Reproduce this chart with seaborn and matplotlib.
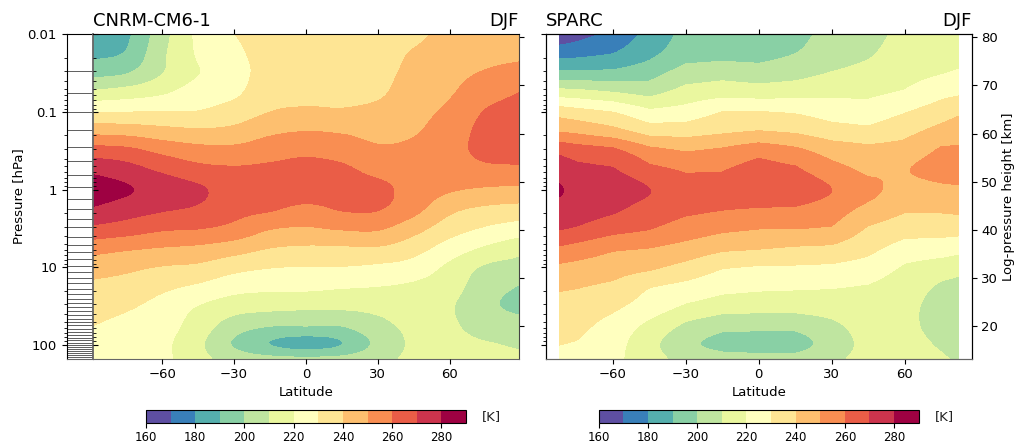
import numpy as np
import matplotlib
matplotlib.use("Agg")
import matplotlib.pyplot as plt
from matplotlib.ticker import NullFormatter
import seaborn as sns

# pressure rows [hPa], top to bottom
pressure = [0.01, 0.0178, 0.0316, 0.0562, 0.1, 0.178, 0.316, 0.562, 1, 1.78, 3.16, 5.62, 10, 17.8, 31.6, 56.2, 100, 150]

# zonal mean temperature [K] per latitude column
cnrm_lat = [-88.8, -75, -60, -45, -30, -15, 0, 15, 30, 45, 60, 75, 89]
cnrm_m89 = [182, 187.5, 196.7, 212, 230, 247, 264.5, 277.7, 285, 278.7, 267.6, 254, 244, 238, 234, 230, 226, 224]
cnrm_m75 = [188, 191, 199.5, 214.5, 230, 246, 262.8, 274, 281, 274.5, 265, 251.5, 242, 236.3, 231.3, 227, 224, 223]
cnrm_m60 = [206, 208, 209.7, 218.4, 230.4, 243.5, 257.3, 268.3, 276, 271, 261.3, 249.5, 239.3, 232, 226.5, 224, 222, 222]
cnrm_m45 = [222, 221, 219.5, 224.7, 230.5, 241.8, 253.7, 263.2, 271.5, 268.5, 260.2, 248, 237.7, 228.2, 219.6, 215.3, 212, 213]
cnrm_m30 = [229.8, 228, 226, 228, 234.5, 242.8, 253, 261.5, 265.5, 263, 257, 244.6, 233, 223.5, 214.5, 205, 199, 206]
cnrm_m15 = [232.5, 233, 234, 236.5, 240, 248, 256, 262, 264.5, 261, 250.5, 240, 230.3, 222, 213, 200.4, 190, 203]
cnrm_000 = [233, 234.5, 236, 237.5, 241.5, 250, 258, 263, 265.5, 257.4, 249, 238.5, 229.5, 222, 212, 200.3, 186, 202]
cnrm_p15 = [233, 234, 235.5, 237.5, 241, 249, 256, 261.7, 263, 260.6, 250.8, 238.7, 229.5, 220.7, 212, 200.3, 190, 203]
cnrm_p30 = [234, 235, 236.5, 238.3, 242.7, 247, 251.7, 257.4, 262.5, 260.5, 251, 239, 228, 219.8, 212.8, 207, 202.5, 207]
cnrm_p45 = [237, 241, 243, 245.5, 247, 249, 252.5, 255, 256, 253, 243.5, 234, 225.6, 218, 214.5, 212, 211.5, 212]
cnrm_p60 = [243.5, 245, 247, 249, 252, 255, 257, 255.7, 251, 242.3, 234.5, 225.4, 217.5, 214, 211, 211.5, 213, 214]
cnrm_p75 = [244.5, 247, 250.8, 256, 260.5, 262.5, 262, 257.6, 248.5, 238, 228.8, 218.5, 208.5, 204, 202, 205, 211, 213]
cnrm_p89 = [246, 248, 253.5, 260, 263, 264, 263.5, 257.7, 247.4, 236.4, 225.2, 213.5, 206, 199.5, 198, 203.3, 208.8, 212]

sparc_lat = [-82, -75, -60, -45, -30, -15, 0, 15, 30, 45, 60, 75, 82]
sparc_m82 = [163, 176, 192.5, 214.3, 235.4, 249.5, 267.5, 275, 281, 276, 270.6, 258.8, 248, 241.2, 237, 233.5, 230, 227]
sparc_m75 = [166, 177, 192.7, 213.5, 233.5, 248, 265, 272.5, 277, 274.5, 269, 256.5, 247, 240.5, 236.6, 232.8, 229.2, 227]
sparc_m60 = [172.5, 180, 192.5, 210.3, 230, 243.6, 262.4, 271, 276, 271.7, 263.5, 251.5, 244.4, 238, 232, 226.5, 224, 222.5]
sparc_m45 = [183, 187.5, 196, 206.8, 222, 236, 253, 262.6, 270.2, 265.7, 260.4, 250, 241.7, 230.4, 225.5, 217.5, 213, 214]
sparc_m30 = [193, 196, 204.5, 213.8, 224, 235.7, 249.3, 259, 263, 261.8, 255.3, 246.5, 236.7, 227, 218.5, 208, 202, 206]
sparc_m15 = [195, 197, 206.3, 216.3, 230.1, 238.5, 251.7, 259.5, 263, 260.3, 252, 242, 230.6, 223, 214.5, 203, 197, 204]
sparc_000 = [195, 196.5, 204.8, 215, 230.5, 240.5, 256.2, 264, 267, 259.2, 250.2, 240.7, 229, 221.7, 213.5, 202.9, 195, 204]
sparc_p15 = [197, 200, 206.7, 216, 229, 238.8, 252.4, 261.7, 267, 258.6, 250.2, 239, 228.9, 221.2, 213.4, 203, 195, 204]
sparc_p30 = [203, 205, 210.5, 217.7, 225.5, 234.5, 245.7, 253.5, 260, 254.8, 249, 238.2, 228.2, 220.6, 214.3, 208, 205, 208]
sparc_p45 = [206, 208.7, 213.3, 218, 224.3, 232.5, 243, 248, 253, 246.9, 238.9, 232.7, 226, 219.2, 216, 214, 213, 213]
sparc_p60 = [213, 215, 216.9, 220.8, 229.4, 237, 243.8, 249.3, 245, 241, 234, 226, 218.7, 215, 213, 212.5, 213.5, 214]
sparc_p75 = [214, 216.5, 219.5, 227, 235, 243.3, 251.3, 254, 247.3, 241.3, 234, 225, 215, 208.5, 206, 206.5, 209, 211]
sparc_p82 = [215, 217, 221, 228.4, 238.3, 245.5, 251.5, 255, 248, 242, 233.9, 223.3, 213.5, 207, 205, 204.5, 206.5, 209]

# model levels marked in the strip left of the CNRM panel [hPa]
model_levels = [0.0299, 0.0574, 0.101, 0.172, 0.28, 0.432, 0.643, 0.934, 1.31, 1.79, 2.39, 3.06, 4.05, 5.13, 6.37,
                7.91, 9.57, 11.6, 13.9, 16.1, 19.1, 22.2, 25.2, 28.7, 32.3, 36.4, 40.9, 45.6, 50.4, 55.6, 61.3, 67.8,
                74.8, 81.7, 87.3, 93.1, 99.4, 106, 113, 120, 128, 135, 144]

levels = np.arange(160, 300, 10)
pressure_ticks = [0.01, 0.1, 1, 10, 100]
pressure_labels = ["0.01", "0.1", "1", "10", "100"]
lat_ticks = [-60, -30, 0, 30, 60]
height_ticks = [20, 30, 40, 50, 60, 70, 80]
cbar_ticks = [160, 180, 200, 220, 240, 260, 280]

W, H = 1016.0, 443.0


def box(x0, x1, y0, y1):
    # pixel box to figure fraction
    return [x0 / W, 1 - y1 / H, (x1 - x0) / W, (y1 - y0) / H]


def height(p):
    return 7.0 * np.log(1000.0 / p)


def dress_pressure(ax):
    ax.set_yscale("log")
    ax.set_ylim(150, 0.01)
    ax.set_yticks(pressure_ticks)
    ax.yaxis.set_minor_formatter(NullFormatter())


def hermite(x, y, new_x):
    # cubic through the table values along the first axis, only to round the contour corners
    x = np.asarray(x, float)
    y = np.asarray(y, float)
    slope = np.gradient(y, x, axis=0)
    i = np.clip(np.searchsorted(x, new_x) - 1, 0, len(x) - 2)
    h = x[i + 1] - x[i]
    t = (new_x - x[i]) / h
    shape = (-1,) + (1,) * (y.ndim - 1)
    t = t.reshape(shape)
    h = h.reshape(shape)
    return ((2 * t**3 - 3 * t**2 + 1) * y[i] + (t**3 - 2 * t**2 + t) * h * slope[i]
            + (-2 * t**3 + 3 * t**2) * y[i + 1] + (t**3 - t**2) * h * slope[i + 1])


def panel(ax, lats, columns, name, show_height, smooth_lat):
    # refine in log-p so contours land where they do on the log axis
    log_fine = np.linspace(-2, np.log10(150), 150)
    temp = hermite(np.log10(pressure), np.array(columns).T, log_fine).T
    fine_lat = lats
    if smooth_lat:
        fine_lat = np.linspace(lats[0], lats[-1], 120)
        temp = hermite(lats, temp, fine_lat)
    cs = ax.contourf(fine_lat, 10.0**log_fine, temp.T, levels=levels, cmap=cmap, vmin=160, vmax=290)
    dress_pressure(ax)
    ax.set_axisbelow(False)
    ax.set_xticks(lat_ticks)
    ax.tick_params(axis="x", top=True)
    ax.set_xlabel("Latitude", fontsize=9.5, labelpad=3)
    ax.set_title(name, loc="left", fontsize=13, pad=6)
    ax.set_title("DJF", loc="right", fontsize=13, pad=6)
    twin = ax.twinx()
    twin.set_ylim(height(150), height(0.01))
    twin.set_yticks(height_ticks)
    if show_height:
        twin.set_ylabel("Log-pressure height [km]", fontsize=9.5, labelpad=3)
    else:
        twin.set_yticklabels([])
    return cs, twin


sns.set_style("ticks", {"axes.edgecolor": "black", "xtick.color": "black", "ytick.color": "black",
                        "text.color": "black", "axes.labelcolor": "black"})
plt.rcParams["font.family"] = "DejaVu Sans"
plt.rcParams["xtick.labelsize"] = 9.5
plt.rcParams["ytick.labelsize"] = 9.5
cmap = sns.color_palette("Spectral_r", as_cmap=True).resampled(13)

fig = plt.figure(figsize=(10.16, 4.43), dpi=100)

# left panel: strip with the model levels, then the contours
strip = fig.add_axes(box(66.7, 93.3, 34.4, 358.7))
strip.hlines(model_levels, 0, 1, color="#444444", lw=0.6)
strip.set_xlim(0, 1)
dress_pressure(strip)
strip.set_yticklabels(pressure_labels)
strip.set_xticks([])
strip.set_ylabel("Pressure [hPa]", fontsize=9.5, labelpad=2)
strip.spines["bottom"].set_color("#666666")

ax1 = fig.add_axes(box(93.3, 519, 34.4, 358.7))
cs1, twin1 = panel(ax1, cnrm_lat,
                   [cnrm_m89, cnrm_m75, cnrm_m60, cnrm_m45, cnrm_m30, cnrm_m15, cnrm_000,
                    cnrm_p15, cnrm_p30, cnrm_p45, cnrm_p60, cnrm_p75, cnrm_p89],
                   "CNRM-CM6-1", False, True)
ax1.set_xlim(-88.8, 89)
ax1.yaxis.set_ticks_position("left")
ax1.tick_params(axis="y", which="both", left=True, right=False, direction="in", labelleft=False)
ax1.set_zorder(3)
for sp in ["bottom", "left"]:
    ax1.spines[sp].set_color("#666666")
ax1.spines["left"].set_linewidth(1.3)
ax1.spines["right"].set_color("#444444")
for sp in ["bottom", "left", "top", "right"]:
    twin1.spines[sp].set_visible(False)

# right panel: white margin on both sides of the data
ax2 = fig.add_axes(box(545.7, 971.7, 34.4, 358.7))
cs2, twin2 = panel(ax2, sparc_lat,
                   [sparc_m82, sparc_m75, sparc_m60, sparc_m45, sparc_m30, sparc_m15, sparc_000,
                    sparc_p15, sparc_p30, sparc_p45, sparc_p60, sparc_p75, sparc_p82],
                   "SPARC", True, False)
ax2.set_xlim(-87.6, 87.6)
ax2.set_yticklabels([])
ax2.tick_params(axis="y", which="both", right=False)
ax2.spines["bottom"].set_color("#666666")
twin2.spines["bottom"].set_color("#666666")

for cs, x0, x1 in [(cs1, 146, 466), (cs2, 598.7, 918.7)]:
    cax = fig.add_axes(box(x0, x1, 409.5, 422.5))
    cb = fig.colorbar(cs, cax=cax, orientation="horizontal", ticks=cbar_ticks)
    cb.ax.tick_params(labelsize=8.5, pad=2.5)
    fig.text((x1 + 25.5) / W, 1 - 416.5 / H, "[K]", fontsize=9.5, va="center", ha="center", color="#222222")

fig.savefig("out.png", dpi=100)
